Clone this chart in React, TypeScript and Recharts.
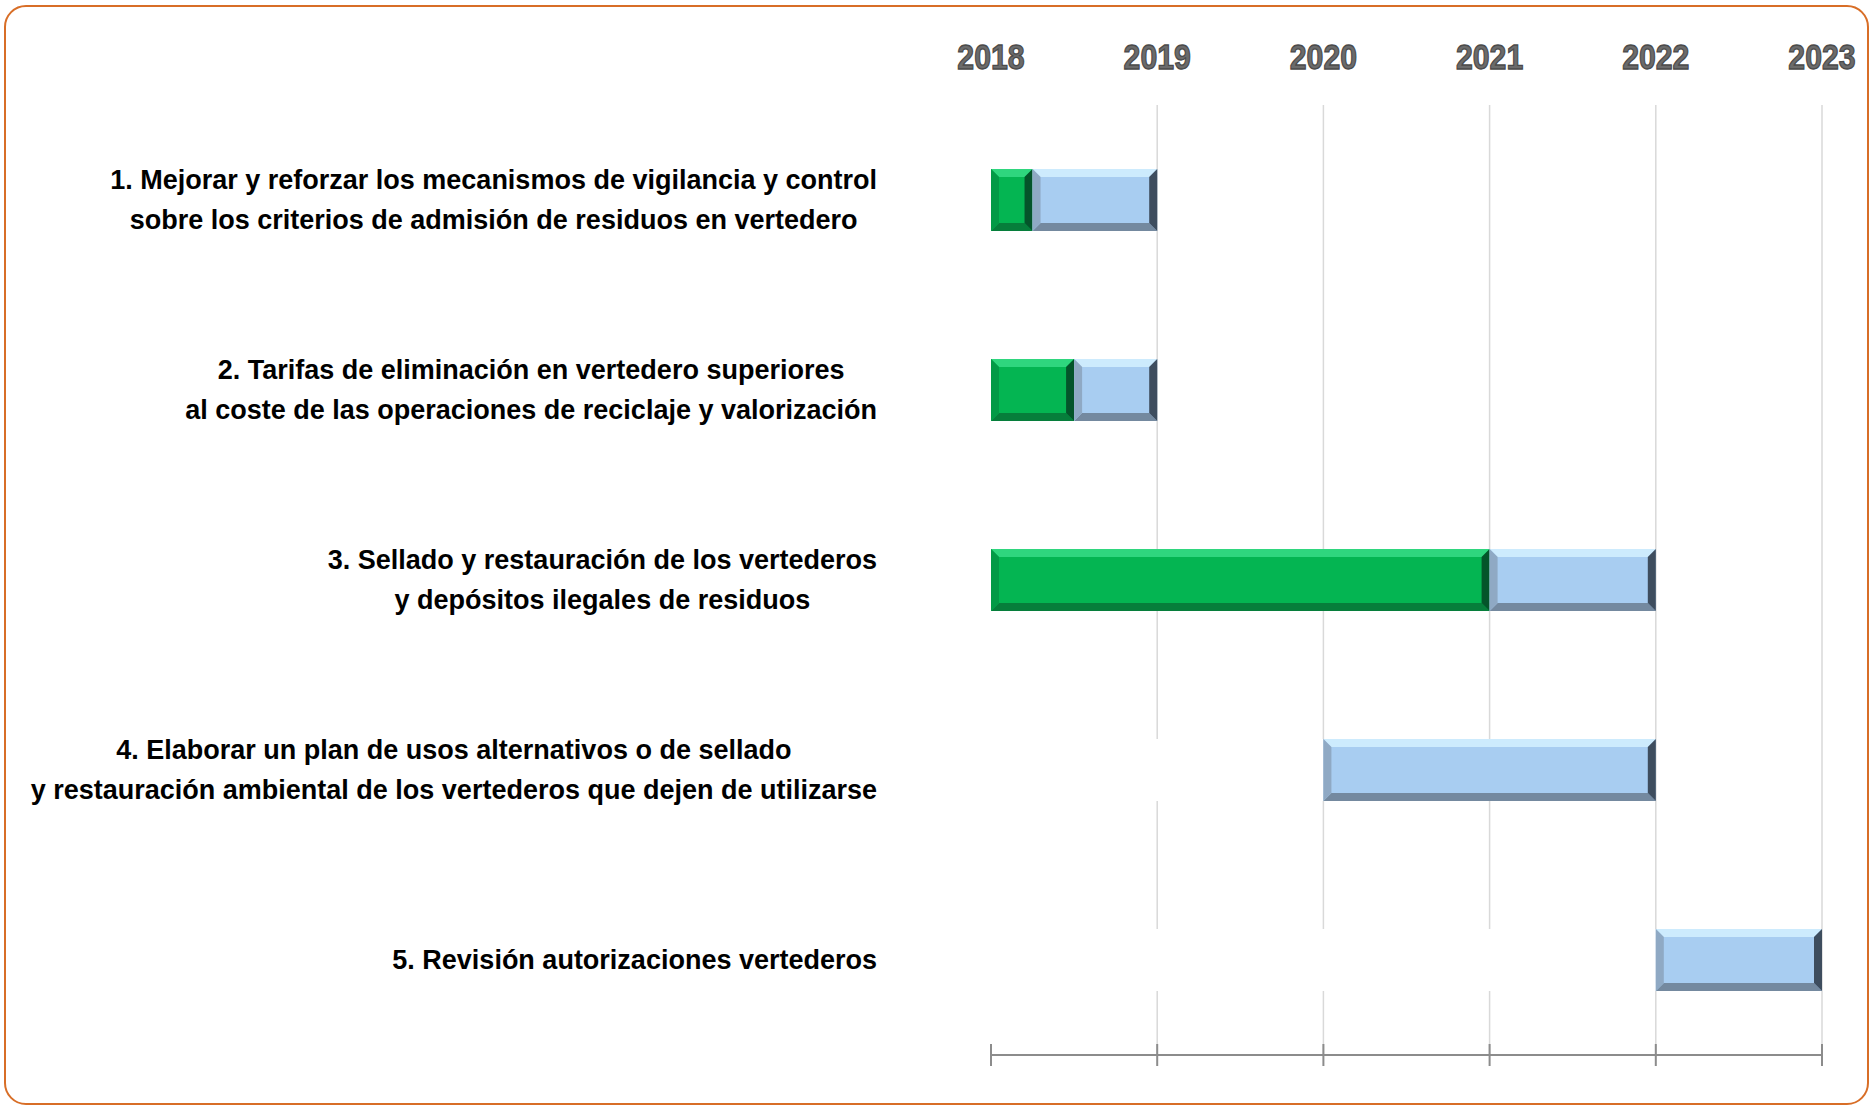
import React from 'react';
import { BarChart, Bar, XAxis, YAxis, CartesianGrid } from 'recharts';

// years on the timeline
const YEARS = [2018, 2019, 2020, 2021, 2022, 2023];

// one entry per action, lines separated by \n
const TASKS = [
  '1. Mejorar y reforzar los mecanismos de vigilancia y control\nsobre los criterios de admisión de residuos en vertedero',
  '2. Tarifas de eliminación en vertedero superiores\nal coste de las operaciones de reciclaje y valorización',
  '3. Sellado y restauración de los vertederos\ny depósitos ilegales de residuos',
  '4. Elaborar un plan de usos alternativos o de sellado\ny restauración ambiental de los vertederos que dejen de utilizarse',
  '5. Revisión autorizaciones vertederos',
];

// start year of each action, then years done (green) and years pending (blue)
const START = [2018, 2018, 2018, 2020, 2022];
const DONE = [0.25, 0.5, 3, 0, 0];
const PENDING = [0.75, 0.5, 1, 2, 1];

const BASE = YEARS[0];

const data = TASKS.map((task, i) => ({
  task,
  offset: START[i] - BASE,
  done: DONE[i],
  pending: PENDING[i],
}));

const GREEN = { base: '#04B552', top: '#2FD67E', bottom: '#067E3B', left: '#039A47', right: '#04542A' };
const BLUE = { base: '#A8CDF1', top: '#CDEBFD', bottom: '#74899F', left: '#8FA9C4', right: '#3E4D5E' };

const FAMILY = '"Liberation Sans", Arial, sans-serif';
const LABEL_FONT = `bold 27px ${FAMILY}`;

let canvasCtx: CanvasRenderingContext2D | null = null;
const textWidth = (text: string) => {
  if (!canvasCtx) canvasCtx = document.createElement('canvas').getContext('2d');
  if (!canvasCtx) return text.length * 13;
  canvasCtx.font = LABEL_FONT;
  return canvasCtx.measureText(text).width;
};

const BevelBar = (props: any) => {
  const { x, y, width, height, tone } = props;
  if (!width || width <= 0) return null;
  const b = Math.min(8, width / 2, height / 2);
  const r = x + width;
  const bt = y + height;
  return (
    <g>
      <rect x={x} y={y} width={width} height={height} fill={tone.base} />
      <polygon points={`${x},${y} ${r},${y} ${r - b},${y + b} ${x + b},${y + b}`} fill={tone.top} />
      <polygon points={`${x},${bt} ${x + b},${bt - b} ${r - b},${bt - b} ${r},${bt}`} fill={tone.bottom} />
      <polygon points={`${x},${y} ${x + b},${y + b} ${x + b},${bt - b} ${x},${bt}`} fill={tone.left} />
      <polygon points={`${r},${y} ${r - b},${y + b} ${r - b},${bt - b} ${r},${bt}`} fill={tone.right} />
    </g>
  );
};

const TaskTick = (props: any) => {
  const { x, y, payload } = props;
  const lines: string[] = String(payload.value).split('\n');
  const maxW = Math.max(...lines.map(textWidth));
  const cx = x - 114 - maxW / 2;
  return (
    <g>
      {lines.map((line, i) => (
        <text
          key={i}
          x={cx}
          y={y + (i - (lines.length - 1) / 2) * 40}
          textAnchor="middle"
          dominantBaseline="central"
          fill="#000"
          style={{ font: LABEL_FONT }}
        >
          {line}
        </text>
      ))}
    </g>
  );
};

// bottom axis tick: a mark crossing the axis line, plus the year label at the top of the chart
const YearTick = (props: any) => {
  const { x, y, payload } = props;
  return (
    <g>
      <line x1={x} x2={x} y1={y - 11} y2={y + 11} stroke="#8C8C8C" strokeWidth={2} />
      <text
        transform={`translate(${x}, 57) scale(0.84, 1)`}
        textAnchor="middle"
        dominantBaseline="central"
        fill="#6B6B6B"
        stroke="#4A4A4A"
        strokeWidth={1.3}
        fontFamily={FAMILY}
        fontWeight="bold"
        fontSize={36}
      >
        {BASE + payload.value}
      </text>
    </g>
  );
};

const App: React.FC = () => {
  const ticks = YEARS.map((yr) => yr - BASE);
  return (
    <div style={{ position: 'fixed', left: 0, top: 0, width: 1873, height: 1107, background: '#fff' }}>
      <div
        style={{
          position: 'absolute',
          left: 4,
          top: 5,
          width: 1865,
          height: 1100,
          boxSizing: 'border-box',
          border: '2px solid #D86E27',
          borderRadius: 22,
        }}
      />
      <div style={{ position: 'absolute', left: 0, top: 0 }}>
        <BarChart
          width={1873}
          height={1107}
          data={data}
          layout="vertical"
          margin={{ top: 105, right: 51, bottom: 0, left: 0 }}
          barSize={62}
        >
          <CartesianGrid
            horizontal={false}
            stroke="#D9D9D9"
            strokeWidth={1.5}
            verticalValues={ticks.slice(1)}
          />
          <XAxis
            orientation="bottom"
            type="number"
            domain={[0, YEARS.length - 1]}
            ticks={ticks}
            height={52}
            axisLine={{ stroke: '#8C8C8C', strokeWidth: 2 }}
            tickLine={false}
            tickSize={0}
            tickMargin={0}
            tick={(p: any) => <YearTick {...p} />}
            interval={0}
          />
          <YAxis
            type="category"
            dataKey="task"
            width={991}
            axisLine={false}
            tickLine={false}
            tickSize={0}
            tickMargin={0}
            tick={(p: any) => <TaskTick {...p} />}
            interval={0}
          />
          <Bar dataKey="offset" stackId="a" fill="#FFFFFF" isAnimationActive={false} />
          <Bar
            dataKey="done"
            stackId="a"
            isAnimationActive={false}
            shape={(p: any) => <BevelBar {...p} tone={GREEN} />}
          />
          <Bar
            dataKey="pending"
            stackId="a"
            isAnimationActive={false}
            shape={(p: any) => <BevelBar {...p} tone={BLUE} />}
          />
        </BarChart>
      </div>
    </div>
  );
};

export default App;
